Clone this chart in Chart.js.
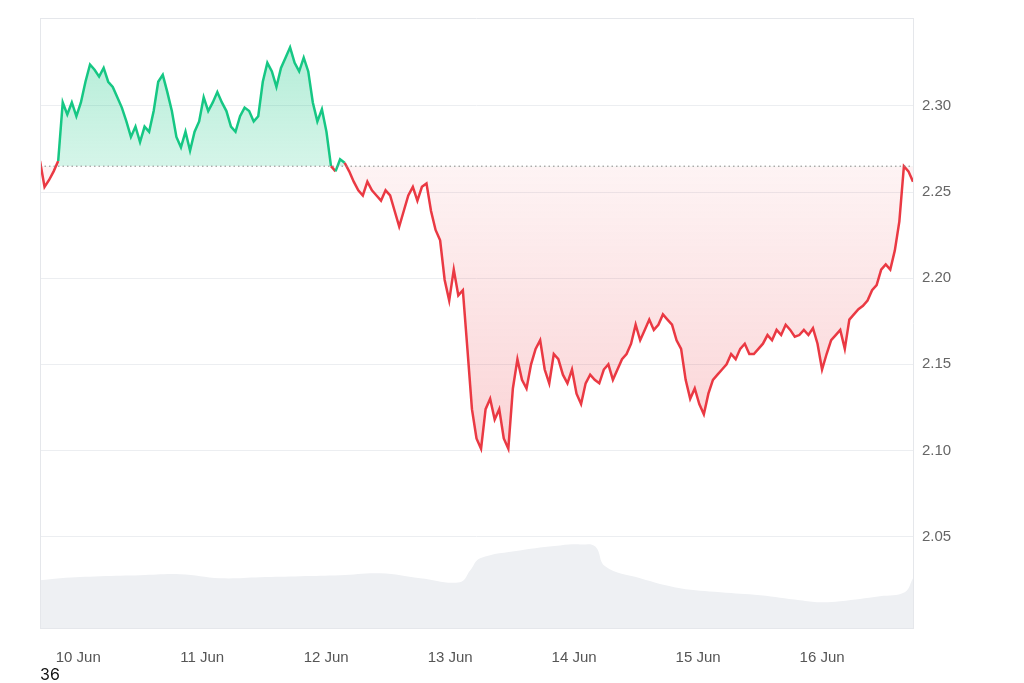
<!DOCTYPE html>
<html><head><meta charset="utf-8">
<script src="https://cdn.jsdelivr.net/npm/chart.js@4"></script>
<style>html,body{margin:0;padding:0;background:#fff;width:1024px;height:683px;overflow:hidden;font-family:"Inter","Noto Sans",sans-serif}
#wrap{position:absolute;left:0;top:0;width:1024px;height:683px}
#lbl{position:absolute;left:40px;top:664px;font-size:16px;color:#111}</style>
</head><body>
<div id="wrap"><canvas id="c" width="1024" height="683"></canvas></div>
<div id="lbl">36</div>
<script>
const dayLabels = ["10 Jun","11 Jun","12 Jun","13 Jun","14 Jun","15 Jun","16 Jun"];
const dayHours = [0,24,48,72,96,120,144];
const yTicks = [2.05,2.10,2.15,2.20,2.25,2.30];
const baseline = 2.265;
const startHour = -7.4, endHour = 161.6;
const prices = [2.268,2.253,2.257,2.262,2.268,2.302,2.295,2.302,2.294,2.302,2.314,2.324,2.321,2.317,2.322,2.314,2.311,2.305,2.299,2.291,
2.282,2.288,2.279,2.288,2.285,2.297,2.314,2.318,2.308,2.297,2.282,2.276,2.285,2.274,2.285,2.291,2.305,2.297,2.302,2.308,
2.302,2.297,2.288,2.285,2.294,2.299,2.297,2.291,2.294,2.314,2.325,2.320,2.311,2.322,2.328,2.334,2.325,2.320,2.328,2.320,
2.302,2.291,2.298,2.285,2.265,2.262,2.269,2.267,2.262,2.256,2.251,2.248,2.256,2.251,2.248,2.245,2.251,2.248,2.239,2.230,
2.239,2.248,2.253,2.245,2.253,2.255,2.239,2.228,2.222,2.199,2.187,2.205,2.190,2.193,2.159,2.124,2.107,2.101,2.124,2.130,
2.118,2.124,2.107,2.101,2.136,2.153,2.141,2.136,2.150,2.159,2.164,2.147,2.139,2.156,2.153,2.144,2.139,2.147,2.133,2.127,
2.139,2.144,2.141,2.139,2.147,2.150,2.141,2.147,2.153,2.156,2.162,2.173,2.164,2.170,2.176,2.170,2.173,2.179,2.176,2.173,
2.164,2.159,2.141,2.130,2.136,2.127,2.121,2.133,2.141,2.144,2.147,2.150,2.156,2.153,2.159,2.162,2.156,2.156,2.159,2.162,
2.167,2.164,2.170,2.167,2.173,2.170,2.166,2.167,2.170,2.167,2.171,2.162,2.147,2.156,2.164,2.167,2.170,2.159,2.176,2.179,
2.182,2.184,2.187,2.193,2.196,2.205,2.208,2.205,2.216,2.233,2.265,2.262,2.256];
const volHours = [-7.4,-3.5,4.3,12,19.7,27.5,35.2,43,50.7,58.5,66.2,73.9,75.9,77.8,85.5,93.3,97.2,100.1,102,108.8,116.5,124.3,132,139.7,143.6,147.5,155.2,160,161.6];
const volumes = [48,50,52,53,54,50,51,52,53,55,50,46,58,70,78,83,84,82,62,50,40,36,33,28,26,27,32,36,50];

const step = (endHour-startHour)/(prices.length-1);
const priceData = prices.map((p,i)=>({x:startHour+i*step,y:p}));
const volData = volHours.map((h,i)=>({x:h,y:volumes[i]}));
const GREEN='#16c784', RED='#ea3943';

const basePlugin={id:'base',afterDatasetsDraw(ch){const {ctx,chartArea:a,scales:{y}}=ch;const py=y.getPixelForValue(baseline);
ctx.save();ctx.strokeStyle='#888';ctx.lineWidth=1;ctx.setLineDash([1.5,3]);ctx.beginPath();ctx.moveTo(a.left,py);ctx.lineTo(a.right,py);ctx.stroke();
ctx.setLineDash([]);ctx.strokeStyle='#e5e7eb';ctx.beginPath();ctx.moveTo(a.left,a.top+0.5);ctx.lineTo(a.right,a.top+0.5);ctx.moveTo(a.left+0.5,a.top);ctx.lineTo(a.left+0.5,a.bottom);ctx.stroke();ctx.restore();}};

function belowFill(c){const ch=c.chart,a=ch.chartArea;if(!a)return 'rgba(234,57,67,0.12)';
 const y=ch.scales.y;const g=ch.ctx.createLinearGradient(0,y.getPixelForValue(baseline),0,y.getPixelForValue(2.10));
 g.addColorStop(0,'rgba(234,57,67,0.06)');g.addColorStop(1,'rgba(234,57,67,0.22)');return g;}
function aboveFill(c){const ch=c.chart,a=ch.chartArea;if(!a)return 'rgba(22,199,132,0.25)';
 const y=ch.scales.y;const g=ch.ctx.createLinearGradient(0,y.getPixelForValue(2.335),0,y.getPixelForValue(baseline));
 g.addColorStop(0,'rgba(22,199,132,0.32)');g.addColorStop(1,'rgba(22,199,132,0.18)');return g;}

const chart=new Chart(document.getElementById('c'),{
 type:'line',
 data:{datasets:[
  {data:priceData,yAxisID:'y',borderWidth:2.5,pointRadius:0,tension:0,
   segment:{borderColor:c=>((c.p0.parsed.y+c.p1.parsed.y)/2>=baseline?GREEN:RED)},
   borderColor:RED,
   fill:{target:{value:baseline},above:'rgba(22,199,132,0.28)',below:'rgba(234,57,67,0.12)'}},
  {data:volData,yAxisID:'v',borderWidth:0,pointRadius:0,tension:0.4,fill:'origin',backgroundColor:'#eef0f3',borderColor:'#eef0f3'}
 ]},
 options:{responsive:false,animation:false,
  layout:{padding:{left:40,top:15,right:0,bottom:0}},
  plugins:{legend:{display:false},tooltip:{enabled:false}},
  scales:{
   x:{type:'linear',min:startHour,max:endHour,
     afterBuildTicks:a=>{a.ticks=dayHours.map(v=>({value:v}))},
     afterFit:a=>{a.height=55},
     grid:{display:false,drawTicks:false},border:{display:true,color:'#e5e7eb'},
     ticks:{padding:21,color:'#555',font:{size:15},maxRotation:0,autoSkip:false,callback:(v)=>dayLabels[dayHours.indexOf(v)]}},
   y:{position:'right',min:1.997,max:2.351,
     afterBuildTicks:a=>{a.ticks=yTicks.map(v=>({value:v}))},
     afterFit:a=>{a.width=111},
     grid:{color:'#eceef1',drawTicks:false},border:{display:true,color:'#e5e7eb'},
     ticks:{padding:9,color:'#666',font:{size:15},callback:v=>v.toFixed(2)}},
   v:{display:false,min:0,max:613}
  }},
 plugins:[basePlugin]
});
chart.data.datasets[0].fill={target:{value:baseline},above:aboveFill({chart}),below:belowFill({chart})};
chart.update('none');
</script>
</body></html>
